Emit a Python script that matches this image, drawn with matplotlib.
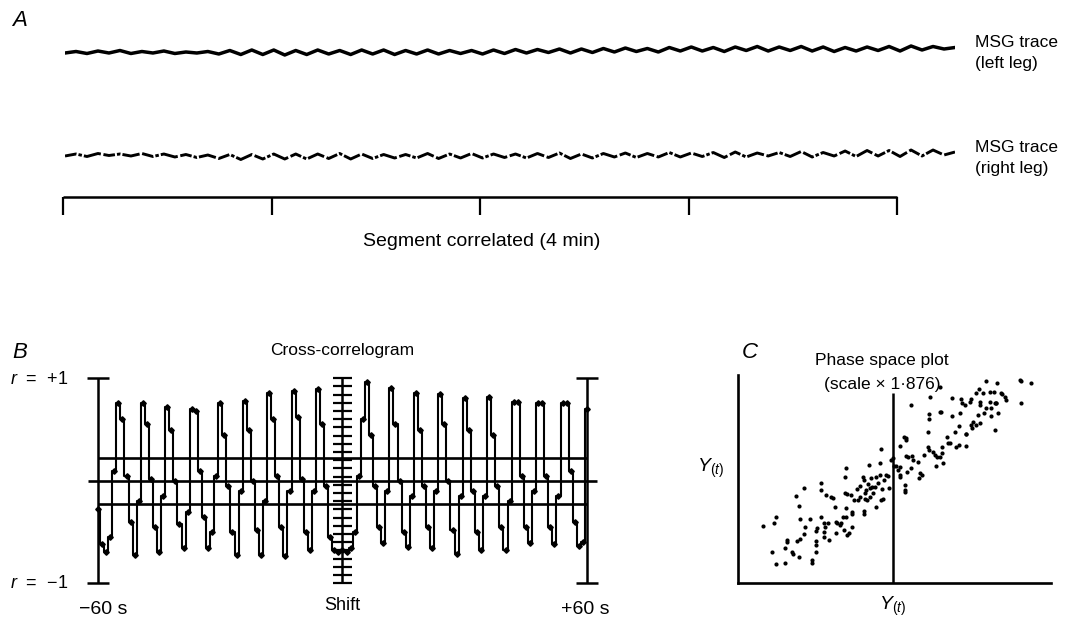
import matplotlib
matplotlib.use("Agg")
import matplotlib.pyplot as plt
import numpy as np

plt.rcParams['font.family'] = ['Liberation Sans', 'DejaVu Sans']
plt.rcParams['mathtext.fontset'] = 'custom'
plt.rcParams['mathtext.it'] = 'Liberation Sans:italic'
plt.rcParams['mathtext.rm'] = 'Liberation Sans'

W, H = 1080, 617

# --- A: MSG traces (deflection, px-like units), one value per half cycle
trace_left = [
    0.0, 1.5, -0.5, 2.0, 0.0, 2.5, -0.5, 1.5, 0.0, 2.0,
    -0.5, 1.0, 0.0, 1.5, -1.0, 2.5, -1.5, 3.0, -1.5, 3.0,
    -2.0, 2.5, -1.5, 3.0, -1.0, 2.5, -1.5, 3.0, -1.0, 3.0,
    -1.5, 2.5, -1.0, 3.0, -1.0, 2.5, -0.5, 2.5, -1.0, 3.0,
    -0.5, 3.5, 0.0, 3.5, 0.5, 4.0, 0.0, 4.0, 0.5, 4.5,
    1.0, 5.0, 1.5, 4.5, 1.0, 5.5, 2.0, 6.0, 2.0, 5.5,
    1.5, 6.0, 2.5, 6.5, 2.0, 6.0, 2.5, 6.5, 2.0, 6.0,
    1.5, 5.5, 2.0, 6.0, 2.5, 6.5, 2.0, 7.0, 3.0, 6.5,
    4.0, 5.5]
trace_right = [
    0.0, 2.0, -0.5, 2.5, 0.5, 2.0, 0.0, 2.5, -0.5, 2.0,
    -1.0, 1.5, -1.5, 1.0, -2.5, 1.5, -3.5, 1.5, -3.0, 2.0,
    -3.0, 2.0, -3.0, 2.0, -2.5, 2.5, -3.0, 2.0, -2.5, 1.5,
    -2.0, 1.5, -2.0, 2.5, -2.5, 2.0, -2.0, 2.5, -2.0, 2.0,
    -1.5, 2.0, -2.0, 2.5, -1.5, 3.0, -2.5, 2.0, -2.0, 2.5,
    -1.0, 3.0, -1.5, 2.5, -1.0, 3.5, -1.0, 3.0, -0.5, 3.5,
    -1.5, 4.0, -1.0, 3.0, 0.0, 3.5, -0.5, 4.5, -1.0, 3.5,
    0.0, 5.0, -0.5, 5.5, 0.0, 5.5, -0.5, 6.0, 0.0, 6.0,
    1.0, 4.0]
segment_minutes = [0, 1, 2, 3, 4]

# --- B: cross-correlogram, lag -60..+60 s in 1 s steps
lags = list(range(-60, 61))
r_values = [
    -0.28, -0.62, -0.70, -0.55, 0.10,
    0.76, 0.60, 0.05, -0.40, -0.72, -0.20,
    0.76, 0.55, 0.02, -0.45, -0.70, -0.15,
    0.72, 0.50, 0.00, -0.42, -0.66, -0.30,
    0.70, 0.68, 0.10, -0.35, -0.66, -0.50, 0.05,
    0.76, 0.45, -0.05, -0.50, -0.72, -0.10,
    0.78, 0.50, 0.00, -0.48, -0.72, -0.20,
    0.86, 0.60, 0.05, -0.45, -0.73, -0.10,
    0.88, 0.62, 0.02, -0.50, -0.68, -0.10,
    0.90, 0.55, -0.05, -0.55, -0.68, -0.70, -0.68, -0.70, -0.66, -0.50, 0.05, 0.60,
    0.96, 0.45, -0.05, -0.45, -0.61, -0.10,
    0.91, 0.55, 0.00, -0.50, -0.65, -0.15,
    0.86, 0.50, -0.05, -0.45, -0.66, -0.10,
    0.85, 0.55, 0.00, -0.48, -0.71, -0.15,
    0.81, 0.50, -0.10, -0.50, -0.68, -0.15,
    0.82, 0.45, -0.05, -0.45, -0.68, -0.20,
    0.77, 0.77, 0.05, -0.45, -0.61, -0.10,
    0.76, 0.76, 0.05, -0.45, -0.62, -0.15,
    0.76, 0.76, 0.10, -0.40, -0.64, -0.60, 0.70]
sig_level = 0.225

# --- C: phase space plot, Y(t) vs Y(t+1) (arbitrary units)
ps_x = [75, 107, 113, 103, 113, 141, 147, 147, 141, 163, 165, 183, 177, 185, 185, 183,
        175, 197, 197, 201, 215, 221, 221, 235, 235, 235, 237, 235, 250, 250, 250, 257,
        260, 257, 257, 263, 270, 273, 280, 285, 291, 293, 293, 297, 307, 310, 315, 317,
        320, 320, 323, 327, 325, 325, 327, 333, 340, 343, 343, 343, 347, 357, 360, 365,
        367, 375, 377, 377, 377, 380, 380, 385, 388, 390, 393, 395, 397, 400, 403, 405,
        410, 415, 413, 420, 425, 427, 430, 430, 433, 435, 437, 443, 450, 453, 460, 465,
        467, 475, 480, 485, 485, 485, 487, 497, 503, 505, 500, 500, 500, 503, 507, 510,
        520, 520, 521, 525, 540, 543, 545, 553, 557, 569, 570, 573, 573, 573, 575, 585,
        590, 593, 597, 605, 605, 607, 610, 611, 613, 615, 627, 630, 637, 643, 643, 650,
        653, 663, 663, 665, 670, 673, 680, 683, 685, 685, 697, 700, 700, 703, 705, 713,
        715, 720, 723, 725, 725, 727, 735, 737, 743, 743, 755, 757, 760, 760, 767, 770,
        770, 773, 775, 777, 780, 790, 793, 800, 805, 847, 850, 850, 880]
ps_y = [173, 180, 200, 93, 58, 62, 130, 125, 107, 95, 88, 80, 128, 133, 192, 233,
        262, 287, 148, 168, 192, 70, 62, 128, 115, 95, 165, 158, 302, 280, 200, 182,
        170, 153, 140, 265, 182, 130, 260, 255, 228, 184, 152, 180, 175, 180, 200, 160,
        272, 320, 347, 267, 225, 200, 145, 150, 265, 215, 208, 170, 250, 282, 250, 292,
        260, 318, 310, 218, 208, 270, 252, 280, 250, 297, 355, 260, 285, 315, 290, 270,
        288, 230, 320, 300, 325, 360, 402, 250, 282, 252, 310, 325, 322, 285, 370, 375,
        352, 352, 340, 350, 325, 320, 412, 440, 435, 430, 295, 280, 275, 382, 335, 380,
        535, 345, 382, 370, 365, 315, 330, 325, 385, 408, 455, 400, 508, 492, 560, 395,
        385, 352, 380, 380, 588, 515, 515, 408, 392, 360, 440, 422, 422, 555, 502, 455,
        408, 472, 415, 510, 552, 540, 535, 448, 448, 412, 545, 552, 475, 465, 485, 570,
        475, 505, 582, 545, 535, 482, 570, 510, 608, 525, 575, 545, 525, 502, 573, 540,
        460, 542, 540, 600, 510, 570, 568, 560, 550, 610, 608, 540, 602]
ps_split = 465


def px_axes(x0, y0, x1, y1):
    return fig.add_axes([x0 / W, 1 - y1 / H, (x1 - x0) / W, (y1 - y0) / H])


fig = plt.figure(figsize=(W / 100, H / 100), dpi=100)
fig.patch.set_facecolor('white')

# ---------------- panel A ----------------
ax_a = px_axes(65, 30, 955, 180)
ax_a.axis('off')
ax_a.set_xlim(0, len(trace_left) - 1)
ax_a.set_ylim(0, 150)
xa = np.arange(len(trace_left))
ax_a.plot(xa, np.array(trace_left) + 127, color='black', lw=2.5,
          solid_joinstyle='round', solid_capstyle='round')
ax_a.plot(xa, np.array(trace_right) + 24, color='black', lw=2.1,
          dashes=(4, 0.7, 1.2, 0.7, 6, 0.9), dash_capstyle='butt')

fig.text(12 / W, 1 - 21 / H, 'A', fontsize=16, style='italic', va='center')
fig.text(975 / W, 1 - 53 / H, 'MSG trace\n(left leg)', fontsize=12.5,
         va='center', linespacing=1.55)
fig.text(975 / W, 1 - 158 / H, 'MSG trace\n(right leg)', fontsize=12.5,
         va='center', linespacing=1.55)

ax_bar = px_axes(63, 190, 897, 220)
ax_bar.axis('off')
ax_bar.set_xlim(0, 4)
ax_bar.set_ylim(0, 30)
ax_bar.hlines(23, 0, 4, color='black', lw=1.8, clip_on=False)
ax_bar.vlines(segment_minutes, 5, 23, color='black', lw=1.6, clip_on=False)
fig.text(482 / W, 1 - 241 / H, 'Segment correlated (4 min)', fontsize=14,
         ha='center', va='center')

# ---------------- panel B ----------------
ax_b = px_axes(80, 370, 605, 590)
ax_b.axis('off')
ax_b.set_xlim(-64.417, 64.417)
ax_b.set_ylim(-1.066, 1.081)
ax_b.hlines(0, -62.5, 62.5, color='black', lw=1.9)
ax_b.hlines([sig_level, -sig_level], -60, 60, color='black', lw=1.9)
for end in (-60, 60):
    ax_b.vlines(end, -1, 1, color='black', lw=1.8)
    ax_b.hlines([-1, 1], end - 2.7, end + 2.7, color='black', lw=1.8)
ax_b.vlines(0, -1, 1, color='black', lw=1.8)
ax_b.hlines(np.linspace(-1, 1, 26), -2.45, 2.45, color='black', lw=1.6)
ax_b.plot(lags, r_values, color='black', lw=1.5, drawstyle='steps-mid')
ax_b.plot(lags, r_values, ls='none', marker='D', ms=2.8, color='black')

fig.text(12 / W, 1 - 352 / H, 'B', fontsize=16, style='italic', va='center')
fig.text(342 / W, 1 - 351 / H, 'Cross-correlogram', fontsize=12.5,
         ha='center', va='center')
fig.text(10 / W, 1 - 379 / H, r'$\mathit{r}$  =  +1', fontsize=13, va='center')
fig.text(10 / W, 1 - 584 / H, r'$\mathit{r}$  =  ' + '\u22121',
         fontsize=13, va='center')
fig.text(103 / W, 1 - 609 / H, '\u221260 s', fontsize=14, ha='center', va='center')
fig.text(342 / W, 1 - 605 / H, 'Shift', fontsize=13, ha='center', va='center')
fig.text(585 / W, 1 - 609 / H, '+60 s', fontsize=14, ha='center', va='center')

# ---------------- panel C ----------------
ax_c = px_axes(738, 375, 1051.3, 583.3)
ax_c.set_xlim(0, 940)
ax_c.set_ylim(0, 625)
for side in ('top', 'right'):
    ax_c.spines[side].set_visible(False)
for side in ('left', 'bottom'):
    ax_c.spines[side].set_linewidth(1.9)
ax_c.set_xticks([])
ax_c.set_yticks([])
ax_c.patch.set_alpha(0)
ax_c.vlines(ps_split, 0, 570, color='black', lw=1.8)
ax_c.scatter(ps_x, ps_y, s=9, color='black', linewidths=0)

fig.text(742 / W, 1 - 352 / H, 'C', fontsize=16, style='italic', va='center')
fig.text(882 / W, 1 - 361 / H, 'Phase space plot', fontsize=12.5,
         ha='center', va='center')
fig.text(882 / W, 1 - 385 / H, '(scale \u00d7 1\u00b7876)', fontsize=12.5,
         ha='center', va='center')
fig.text(711 / W, 1 - 468 / H, r'$Y_{(t)}$', fontsize=14, ha='center', va='center')
fig.text(893 / W, 1 - 606 / H, r'$Y_{(t)}$', fontsize=14, ha='center', va='center')

fig.savefig('out.png', dpi=100)
